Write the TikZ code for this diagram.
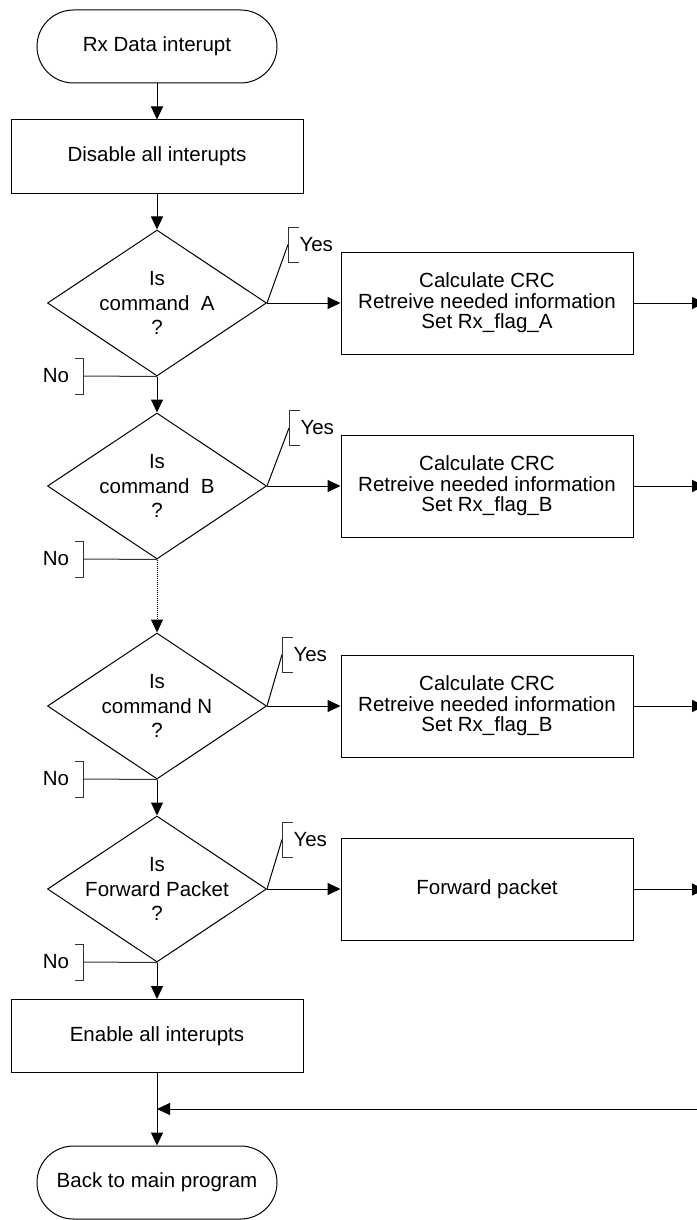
\documentclass[tikz,border=0pt]{standalone}
\usepackage{fontspec}
\setmainfont{Liberation Sans}
\usetikzlibrary{arrows.meta,shapes.geometric}
\begin{document}
\begin{tikzpicture}[x=1pt,y=-1pt,
  line width=1pt,
  every node/.style={font=\fontsize{20.5pt}{20.5pt}\selectfont},
  terminal/.style={draw, rectangle, rounded corners=36.5pt, minimum width=240pt, minimum height=73pt, inner sep=0pt},
  procbox/.style={draw, rectangle, minimum width=292pt, minimum height=102pt, inner sep=0pt, align=center},
  widebox/.style={draw, rectangle, minimum width=292pt, minimum height=73pt, inner sep=0pt},
  decision/.style={draw, diamond, minimum width=219pt, minimum height=146pt, inner sep=0pt},
  dtext/.style={align=center, inner sep=0pt, font=\fontsize{20.5pt}{24.5pt}\selectfont},
  flow/.style={-{Triangle[length=13pt,width=12pt]}},
  bracket/.style={draw=black!80},
  lbl/.style={inner sep=0pt}
]
\useasboundingbox (0,0) rectangle (696,1220);

% main column
\node[terminal] (start) at (157,46.5) {Rx Data interupt};
\node[widebox] (disable) at (157,156.5) {Disable all interupts};

\node[decision] (dA) at (157,303) {};
\node[dtext] (tA) at (dA) {Is\\command~~A\\?};
\node[decision] (dB) at (157,486) {};
\node[dtext] (tB) at (dB) {Is\\command~~B\\?};
\node[decision] (dN) at (157,706) {};
\node[dtext] (tN) at (dN) {Is\\command N\\?};
\node[decision] (dF) at (157,889) {};
\node[dtext] (tF) at (dF) {Is\\Forward Packet\\?};

\node[widebox] (enable) at (157,1036) {Enable all interupts};
\node[terminal] (back) at (157,1182.5) {Back to main program};

% action boxes
\node[procbox] (pA) at (487,303) {Calculate CRC\\Retreive needed information\\Set Rx\_flag\_A};
\node[procbox] (pB) at (487,486) {Calculate CRC\\Retreive needed information\\Set Rx\_flag\_B};
\node[procbox] (pN) at (487,706) {Calculate CRC\\Retreive needed information\\Set Rx\_flag\_B};
\node[procbox] (pF) at (487,889.5) {Forward packet};

% outgoing ends on the right and the return junction
\coordinate (rA) at (705,303);
\coordinate (rB) at (705,486);
\coordinate (rN) at (705,706);
\coordinate (rF) at (705,889.5);
\coordinate (rR) at (705,1109);
\coordinate (join) at (157,1109);

% flow along the column
\draw[flow] (start) -- (disable);
\draw[flow] (disable) -- (dA);
\draw[flow] (dA.south) -- (dB.north);
\draw[flow, dash pattern=on 1pt off 1pt] (dB.south) -- (dN.north);
\draw[flow] (dN.south) -- (dF.north);
\draw[flow] (dF.south) -- (enable);
\draw[flow] (enable) -- (back);

% yes branches
\foreach \d/\p/\r in {dA/pA/rA, dB/pB/rB, dN/pN/rN, dF/pF/rF} {
  \draw[flow] (\d.east) -- (\p.west |- \d.east);
  \draw[flow] (\p.east |- \r) -- (\r);
}
\draw[flow] (rR) -- (join);

% yes annotations
\foreach \d/\yx/\ym in {dA/288/244.5, dB/289/428, dN/282/654.5, dF/282/839.5} {
  \coordinate (yes\d) at (\yx,\ym);
  \draw (\d.east) -- (yes\d);
  \draw[bracket] (\yx+10.5,\ym-17.5) -- (\yx,\ym-17.5) -- (\yx,\ym+17.5) -- (\yx+10.5,\ym+17.5);
  \node[lbl, anchor=west] (yl\d) at (\yx+11,\ym) {Yes};
}

% no annotations
\foreach \d/\by in {dA/376, dB/559, dN/779, dF/962} {
  \coordinate (no\d) at (83.5,\by);
  \draw[bracket] (\d.south) -- (no\d);
  \draw[bracket] (74.5,\by-18) -- (83.5,\by-18) -- (83.5,\by+18) -- (74.5,\by+18);
  \node[lbl, anchor=east] (nl\d) at (69.5,\by) {No};
}
\end{tikzpicture}
\end{document}
